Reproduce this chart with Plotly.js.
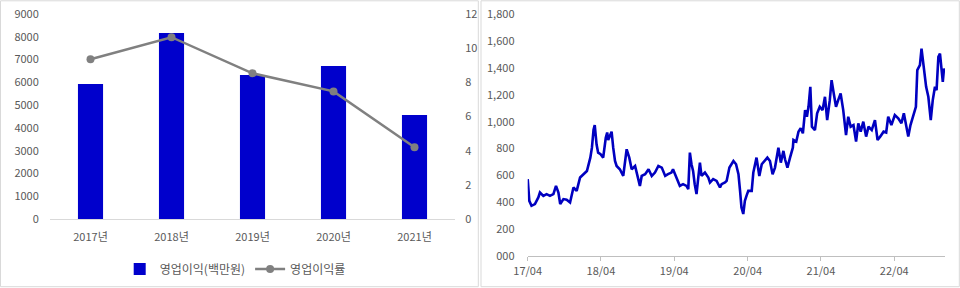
<!DOCTYPE html>
<html>
<head>
<meta charset="utf-8">
<script src="https://cdn.plot.ly/plotly-3.0.1.min.js"></script>
<style>
html,body{margin:0;padding:0;background:#fff;}
#chart{width:960px;height:288px;}
</style>
</head>
<body>
<div id="chart"></div>
<script>
// Left chart: operating profit and margin
const years = ['2017년','2018년','2019년','2020년','2021년'];
const opProfit = [5930, 8165, 6320, 6715, 4565];
const opMargin = [9.35, 10.64, 8.53, 7.47, 4.2];
const profitName = '영업이익(백만원)';
const marginName = '영업이익률';

// Right chart: price series
const priceDates = [
'2017-04-01','2017-04-09','2017-04-20','2017-05-07','2017-05-24','2017-06-01','2017-06-18','2017-07-04','2017-07-21','2017-08-07',
'2017-08-20','2017-09-01','2017-09-10','2017-09-26','2017-10-12','2017-10-29','2017-11-15','2017-12-01','2017-12-18','2018-01-04',
'2018-01-21','2018-02-07','2018-02-15','2018-02-23','2018-03-01','2018-03-10','2018-03-18','2018-03-30','2018-04-12','2018-04-25',
'2018-05-02','2018-05-07','2018-05-24','2018-06-01','2018-06-10','2018-06-18','2018-07-04','2018-07-21','2018-08-07','2018-08-20',
'2018-09-01','2018-09-18','2018-10-04','2018-10-12','2018-10-21','2018-11-07','2018-11-24','2018-12-10','2018-12-26','2019-01-12',
'2019-01-29','2019-02-15','2019-03-01','2019-03-18','2019-03-26','2019-04-12','2019-04-29','2019-05-15','2019-06-01','2019-06-10',
'2019-06-18','2019-06-26','2019-07-04','2019-07-12','2019-07-21','2019-07-29','2019-08-07','2019-08-15','2019-09-01','2019-09-18',
'2019-09-26','2019-10-12','2019-10-29','2019-11-15','2019-11-23','2019-12-10','2019-12-18','2020-01-01','2020-01-21','2020-02-03',
'2020-02-15','2020-02-23','2020-03-01','2020-03-10','2020-03-18','2020-03-26','2020-04-04','2020-04-21','2020-04-29','2020-05-15',
'2020-05-29','2020-06-10','2020-06-26','2020-07-08','2020-07-21','2020-08-03','2020-08-15','2020-09-01','2020-09-13','2020-09-26',
'2020-10-04','2020-10-16','2020-10-29','2020-11-12','2020-11-15','2020-11-29','2020-12-10','2020-12-21','2021-01-01','2021-01-12',
'2021-01-21','2021-01-29','2021-02-07','2021-02-15','2021-03-02','2021-03-13','2021-03-26','2021-04-09','2021-04-21','2021-05-02',
'2021-05-15','2021-05-24','2021-06-05','2021-06-15','2021-06-26','2021-07-08','2021-07-21','2021-08-04','2021-08-15','2021-08-27',
'2021-09-10','2021-09-23','2021-10-04','2021-10-16','2021-10-29','2021-11-12','2021-11-24','2021-12-10','2021-12-26','2022-01-08',
'2022-01-21','2022-02-07','2022-02-20','2022-03-02','2022-03-18','2022-04-04','2022-04-21','2022-05-07','2022-05-19','2022-06-02',
'2022-06-10','2022-06-21','2022-07-04','2022-07-18','2022-07-25','2022-08-07','2022-08-15','2022-08-27','2022-09-07','2022-09-18',
'2022-09-30','2022-10-10','2022-10-21','2022-10-29','2022-11-07','2022-11-15','2022-11-24','2022-11-29','2022-12-05','2022-12-10'
];
const priceValues = [
573,412,375,388,437,474,449,462,449,462,
523,474,388,425,420,400,511,486,585,610,
634,733,807,940,975,832,770,758,733,880,
920,864,926,807,708,671,647,597,795,733,
647,671,560,523,597,610,647,597,622,671,
659,597,610,622,647,585,523,536,523,499,
770,684,634,536,462,573,696,597,622,585,
548,573,560,511,536,548,560,659,708,684,
610,486,363,314,412,449,486,486,622,733,
597,684,708,733,708,610,659,807,696,783,
721,659,733,807,864,852,926,951,914,1086,
1037,1111,1259,963,938,1062,1111,1086,1185,1012,
1160,1309,1198,1111,1160,1210,1086,901,1037,963,
975,852,988,926,1000,889,963,938,1012,864,
889,926,920,1037,975,1049,1025,988,1062,938,
889,975,1049,1111,1383,1420,1543,1407,1259,1185,
1012,1160,1259,1235,1481,1506,1383,1296,1395,1370
];
const priceTickVals = ['2017-04-01','2018-04-01','2019-04-01','2020-04-01','2021-04-01','2022-04-01'];
const priceTickText = ['17/04','18/04','19/04','20/04','21/04','22/04'];
const priceYTicks = [0,200,400,600,800,1000,1200,1400,1600,1800];
const priceYText = ['000','200','400','600','800','1,000','1,200','1,400','1,600','1,800'];

const W = 960, H = 288;
const font = 'Noto Sans CJK KR, sans-serif';
const tickColor = '#595959';

const traces = [
  {type:'bar', x: years, y: opProfit, name: profitName, xaxis:'x', yaxis:'y',
   marker:{color:'#0000CC'}, width:0.31},
  {type:'scatter', mode:'lines+markers', x: years, y: opMargin, name: marginName, xaxis:'x', yaxis:'y2',
   line:{color:'#808080', width:2.5}, marker:{color:'#808080', size:8}},
  {type:'scatter', mode:'lines', x: priceDates, y: priceValues, xaxis:'x3', yaxis:'y3', showlegend:false,
   line:{color:'#0000C0', width:2.6}}
];

const layout = {
  width: W, height: H,
  margin:{l:0,r:0,t:0,b:0},
  paper_bgcolor:'#fff', plot_bgcolor:'#fff',
  font:{family:font, size:11, color:tickColor},
  showlegend:true,
  legend:{orientation:'h', x:0.245, xanchor:'center', y:0.066, yanchor:'middle',
          font:{size:12, color:tickColor}, itemwidth:30, bgcolor:'rgba(0,0,0,0)'},
  bargap:0.69,
  xaxis:{domain:[50/W, 455/W], anchor:'y', type:'category', range:[-0.5,4.5],
         showline:true, linecolor:'#D9D9D9', linewidth:1, ticks:'outside', ticklen:8, tickcolor:'rgba(0,0,0,0)',
         showgrid:false, zeroline:false, tickfont:{size:11, color:tickColor}},
  yaxis:{domain:[(H-219)/H, (H-14)/H], anchor:'x', range:[0,9000], tickvals:[0,1000,2000,3000,4000,5000,6000,7000,8000,9000],
         showgrid:false, zeroline:false, showline:false, ticks:'outside', ticklen:8, tickcolor:'rgba(0,0,0,0)',
         tickfont:{size:11, color:tickColor}},
  yaxis2:{overlaying:'y', side:'right', anchor:'x', range:[0,12], tickvals:[0,2,4,6,8,10,12],
          showgrid:false, zeroline:false, showline:false, ticks:'outside', ticklen:7, tickcolor:'rgba(0,0,0,0)',
          tickfont:{size:11, color:tickColor}},
  xaxis3:{domain:[527.7/W, 945/W], anchor:'y3', type:'date', range:['2017-04-01','2022-12-10'],
          tickvals:priceTickVals, ticktext:priceTickText, showline:true, linecolor:'#BFBFBF', linewidth:1,
          ticks:'outside', ticklen:4, tickcolor:'#BFBFBF', showgrid:false, zeroline:false,
          tickfont:{size:11, color:tickColor}},
  yaxis3:{domain:[(H-256.3)/H, (H-14)/H], anchor:'x3', range:[0,1800], tickvals:priceYTicks, ticktext:priceYText,
          showgrid:false, zeroline:false, showline:false, ticks:'outside', ticklen:10, tickcolor:'rgba(0,0,0,0)',
          tickfont:{size:11, color:tickColor}},
  shapes:[
    {type:'rect', xref:'paper', yref:'paper', x0:0.5/W, x1:478.3/W, y0:(H-286.7)/H, y1:(H-0.8)/H,
     line:{color:'#D9D9D9', width:1}},
    {type:'rect', xref:'paper', yref:'paper', x0:481/W, x1:959.3/W, y0:(H-286.7)/H, y1:(H-0.8)/H,
     line:{color:'#D9D9D9', width:1}}
  ]
};

Plotly.newPlot('chart', traces, layout, {staticPlot:true, displayModeBar:false});
</script>
</body>
</html>
